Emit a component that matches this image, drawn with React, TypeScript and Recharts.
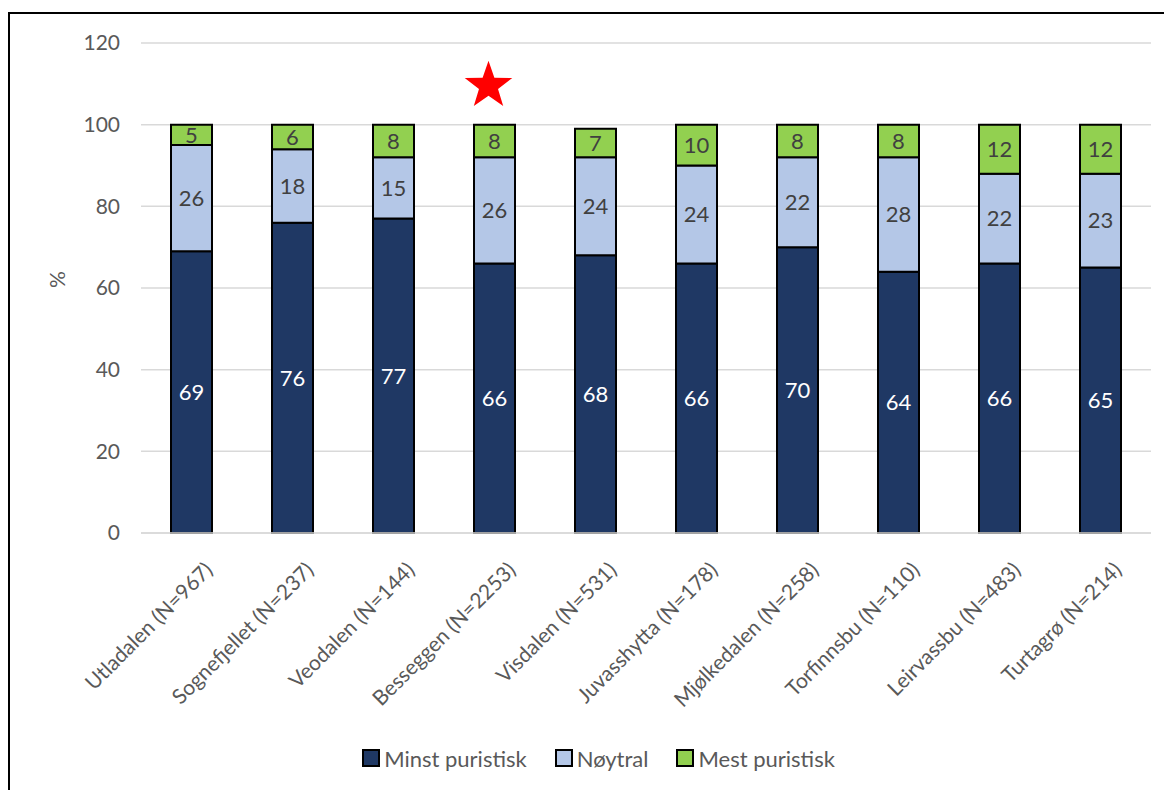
import { BarChart, Bar, XAxis, YAxis, CartesianGrid, Legend, LabelList, ReferenceDot } from "recharts";

const categories = [
  "Utladalen (N=967)",
  "Sognefjellet (N=237)",
  "Veodalen (N=144)",
  "Besseggen (N=2253)",
  "Visdalen (N=531)",
  "Juvasshytta (N=178)",
  "Mjølkedalen (N=258)",
  "Torfinnsbu (N=110)",
  "Leirvassbu (N=483)",
  "Turtagrø (N=214)",
];
const minstPuristisk = [69, 76, 77, 66, 68, 66, 70, 64, 66, 65];
const noytral = [26, 18, 15, 26, 24, 24, 22, 28, 22, 23];
const mestPuristisk = [5, 6, 8, 8, 7, 10, 8, 8, 12, 12];
const yTicks = [0, 20, 40, 60, 80, 100, 120];
const starCategory = "Besseggen (N=2253)";
const starValue = 110;

const series = [
  { key: "minst", name: "Minst puristisk", color: "#1f3864", label: "#ffffff" },
  { key: "noytral", name: "Nøytral", color: "#b4c7e7", label: "#404040" },
  { key: "mest", name: "Mest puristisk", color: "#92d050", label: "#404040" },
];

const data = categories.map((name, i) => ({
  name,
  minst: minstPuristisk[i],
  noytral: noytral[i],
  mest: mestPuristisk[i],
}));

const FONT = "Lato, 'Open Sans', sans-serif";
const TEXT = "#595959";

const CategoryTick = (props: any) => {
  const { x, y, payload } = props;
  return (
    <g transform={`translate(${x + 12},${y + 20})`}>
      <text
        transform="rotate(-45)"
        textAnchor="end"
        dy="0.7em"
        fill={TEXT}
        fontSize={21}
        fontFamily={FONT}
      >
        {payload.value}
      </text>
    </g>
  );
};

const Star = (props: any) => {
  const { cx, cy } = props;
  const outer = 25;
  const inner = 10;
  const pts: string[] = [];
  for (let i = 0; i < 10; i++) {
    const r = i % 2 === 0 ? outer : inner;
    const a = -Math.PI / 2 + (i * Math.PI) / 5;
    pts.push(`${cx - 6 + r * Math.cos(a)},${cy + 2 + r * Math.sin(a)}`);
  }
  return <polygon points={pts.join(" ")} fill="#ff0000" />;
};

// legend in the series order (recharts sorts the payload by name otherwise)
const LegendContent = () => (
  <div style={{ display: "flex", justifyContent: "center", alignItems: "center", height: 40, fontFamily: FONT, paddingLeft: 36 }}>
    {series.map((s, i) => (
      <div key={s.key} style={{ display: "flex", alignItems: "center", marginLeft: i === 0 ? 0 : 28 }}>
        <span
          style={{
            display: "inline-block",
            width: 14,
            height: 14,
            background: s.color,
            border: "2px solid #000",
            marginRight: 4,
          }}
        />
        <span style={{ color: TEXT, fontSize: 22 }}>{s.name}</span>
      </div>
    ))}
  </div>
);

export default function App() {
  return (
    <div
      style={{
        position: "relative",
        top: 4,
        width: 1170,
        height: 780,
        border: "2px solid #000",
        background: "#fff",
      }}
    >
      <BarChart
        width={1162}
        height={776}
        data={data}
        margin={{ top: 29, right: 21, left: 0, bottom: 12 }}
        barCategoryGap={0}
      >
        <CartesianGrid vertical={false} stroke="#d9d9d9" strokeWidth={1.5} />
        <XAxis
          dataKey="name"
          interval={0}
          tickLine={false}
          axisLine={{ stroke: "#d9d9d9", strokeWidth: 1.5 }}
          height={205}
          tick={<CategoryTick />}
        />
        <YAxis
          width={131}
          domain={[0, 120]}
          ticks={yTicks}
          axisLine={false}
          tickLine={false}
          tickMargin={15}
          tick={{ fill: TEXT, fontSize: 21, fontFamily: FONT }}
          label={{ value: "%", angle: -90, position: "insideLeft", offset: 48, fill: TEXT, fontSize: 21, fontFamily: FONT }}
        />
        <Legend verticalAlign="bottom" content={<LegendContent />} />
        {series.map((s) => (
          <Bar
            key={s.key}
            dataKey={s.key}
            name={s.name}
            stackId="a"
            fill={s.color}
            stroke="#000"
            strokeWidth={2}
            barSize={41}
            isAnimationActive={false}
          >
            <LabelList dataKey={s.key} position="center" fill={s.label} fontSize={22} fontFamily={FONT} />
          </Bar>
        ))}
        <ReferenceDot x={starCategory} y={starValue} r={25} shape={<Star />} isFront />
      </BarChart>
    </div>
  );
}
